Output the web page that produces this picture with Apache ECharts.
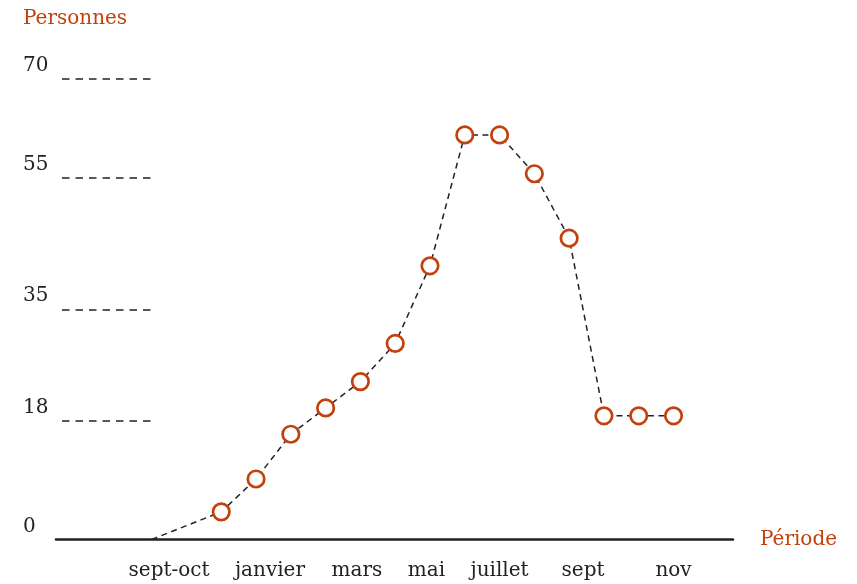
<!DOCTYPE html>
<html>
<head>
<meta charset="utf-8">
<script src="https://cdn.jsdelivr.net/npm/echarts@6/dist/echarts.min.js"></script>
<style>
html,body{margin:0;padding:0;background:#fff;}
#chart{width:857px;height:584px;}
</style>
</head>
<body>
<div id="chart"></div>
<script>
// ---- data ----
const periodIndex = [0, 2, 3, 4, 5, 6, 7, 8, 9, 10, 11, 12, 13, 14, 15];
const personnes   = [0, 4.2, 9.2, 16.0, 20.0, 24.0, 29.8, 41.6, 61.5, 61.5, 55.6, 45.8, 18.8, 18.8, 18.8];
const yTickValues = [0, 18, 35, 55, 70];
const periodLabels = ['sept-oct', 'janvier', 'mars', 'mai', 'juillet', 'sept', 'nov'];
const periodLabelAt = [0.5, 3.4, 5.9, 7.9, 10, 12.4, 15];

// ---- styles ----
const ORANGE = '#c2410c';
const INK = '#222222';
const FONT = 'DejaVu Serif';

const chart = echarts.init(document.getElementById('chart'), null, {renderer: 'canvas'});

const lineData = periodIndex.map((x, i) => ({
  value: [x, personnes[i]],
  symbol: i === 0 ? 'none' : 'circle'
}));

chart.setOption({
  animation: false,
  backgroundColor: '#ffffff',
  title: {
    text: 'Personnes',
    left: 23,
    top: 9,
    padding: 0,
    textStyle: {color: ORANGE, fontFamily: FONT, fontSize: 20, fontWeight: 'normal'}
  },
  grid: [
    {left: 56, right: 124, top: 79, bottom: 44.5},
    {left: 62, width: 89, top: 79, bottom: 44.5}
  ],
  xAxis: [
    {
      type: 'value', gridIndex: 0, min: -2.75, max: 16.71,
      name: 'Période', nameLocation: 'end', nameGap: 27,
      nameTextStyle: {color: ORANGE, fontFamily: FONT, fontSize: 20, align: 'left', verticalAlign: 'middle'},
      axisLine: {show: true, onZero: false, lineStyle: {color: INK, width: 2.6}},
      axisTick: {show: false},
      splitLine: {show: false},
      axisLabel: {
        customValues: periodLabelAt,
        formatter: (v) => {
          const k = periodLabelAt.indexOf(v);
          return k >= 0 ? periodLabels[k] : '';
        },
        margin: 21,
        color: INK, fontFamily: FONT, fontSize: 20
      }
    },
    {type: 'value', gridIndex: 1, min: 0, max: 1, show: false}
  ],
  yAxis: [
    {
      type: 'value', gridIndex: 0, min: 0, max: 70,
      axisLine: {show: false}, axisTick: {show: false}, splitLine: {show: false},
      axisLabel: {
        customValues: yTickValues,
        align: 'left', margin: 33,
        verticalAlign: 'bottom', padding: [0, 0, 3, 0],
        color: INK, fontFamily: FONT, fontSize: 20
      }
    },
    {type: 'value', gridIndex: 1, min: 0, max: 70, show: false}
  ],
  series: [
    {
      type: 'line',
      xAxisIndex: 0, yAxisIndex: 0,
      data: lineData,
      clip: false,
      symbolSize: 16.5,
      lineStyle: {color: INK, width: 1.5, type: [6, 4.5]},
      itemStyle: {color: '#ffffff', borderColor: ORANGE, borderWidth: 2.7},
      emphasis: {disabled: true},
      z: 3
    },
    {
      type: 'line',
      xAxisIndex: 1, yAxisIndex: 1,
      data: [],
      markLine: {
        silent: true,
        symbol: 'none',
        label: {show: false},
        lineStyle: {color: INK, width: 1.6, type: [7.5, 6]},
        emphasis: {disabled: true},
        data: yTickValues.filter(v => v > 0).map(v => ({yAxis: v}))
      }
    }
  ]
});
</script>
</body>
</html>
